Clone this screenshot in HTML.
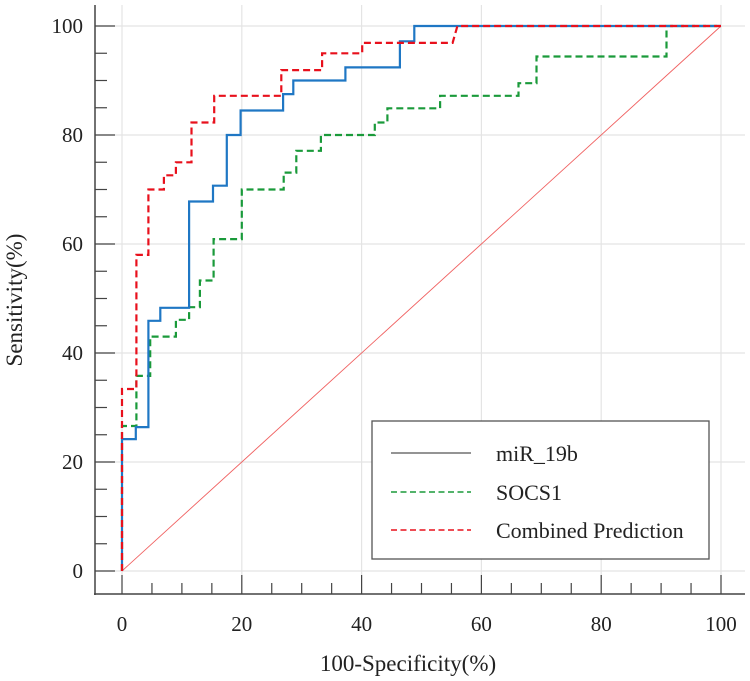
<!DOCTYPE html>
<html><head><meta charset="utf-8"><style>
html,body{margin:0;padding:0;background:#fff;}
svg{display:block;font-family:"Liberation Serif",serif;}
</style></head><body>
<svg id="chart" width="750" height="681" viewBox="0 0 750 681" xmlns="http://www.w3.org/2000/svg">
<g id="grid"></g>
<line id="diag" stroke="#f06060" stroke-width="0.9"/>
<g id="series"></g>
<g id="axes"></g>
<text x="408" y="671" font-size="23" text-anchor="middle" fill="#222">100-Specificity(%)</text>
<text transform="translate(22,300) rotate(-90)" font-size="23" text-anchor="middle" fill="#222">Sensitivity(%)</text>
<g>
<rect x="372" y="421" width="337" height="138" fill="#fff" stroke="#555" stroke-width="1.3"/>
<line x1="391" y1="453" x2="471" y2="453" stroke="#555" stroke-width="1.2"/>
<text x="496" y="461" font-size="22" fill="#222">miR_19b</text>
<line x1="391" y1="492" x2="471" y2="492" stroke="#1a9a3a" stroke-width="1.5" stroke-dasharray="6,3.5"/>
<text x="496" y="500" font-size="22" fill="#222">SOCS1</text>
<line x1="391" y1="530" x2="471" y2="530" stroke="#e8101c" stroke-width="1.5" stroke-dasharray="6,3.5"/>
<text x="496" y="538" font-size="22" fill="#222">Combined Prediction</text>
</g>
</svg>
<script>
// ROC step curves: [100-specificity, sensitivity] vertices
const mirX = [0,0,2.3,2.3,4.4,4.4,6.4,6.4,11.2,11.2,15.2,15.2,17.5,17.5,19.8,19.8,26.9,26.9,28.6,28.6,37.3,37.3,46.4,46.4,48.8,48.8,100];
const mirY = [0,24.2,24.2,26.4,26.4,45.9,45.9,48.3,48.3,67.8,67.8,70.7,70.7,80,80,84.5,84.5,87.5,87.5,90,90,92.4,92.4,97.2,97.2,100,100];
const socsX = [0,0,2.4,2.4,4.7,4.7,9.0,9.0,11.2,11.2,13.0,13.0,15.3,15.3,20,20,27,27,29.1,29.1,33.2,33.2,42.2,42.2,44.3,44.3,53.1,53.1,66.2,66.2,69.2,69.2,90.9,90.9,100];
const socsY = [0,26.6,26.6,35.8,35.8,43,43,46.1,46.1,48.4,48.4,53.3,53.3,60.9,60.9,70,70,73.1,73.1,77.1,77.1,80,80,82.3,82.3,84.9,84.9,87.2,87.2,89.5,89.5,94.4,94.4,100,100];
const combX = [0,0,2.4,2.4,4.4,4.4,7.0,7.0,9.0,9.0,11.6,11.6,15.4,15.4,26.6,26.6,33.4,33.4,40.1,40.1,55.2,56,100];
const combY = [0,33.4,33.4,58,58,70,70,72.6,72.6,75,75,82.3,82.3,87.2,87.2,91.9,91.9,95,95,96.9,96.9,100,100];
const xTicks = [0,20,40,60,80,100];
const yTicks = [0,20,40,60,80,100];

const NS="http://www.w3.org/2000/svg";
const sx = v => 122 + v*5.99;
const sy = v => 571 - v*5.45;
function mk(tag, attrs, parent){const e=document.createElementNS(NS,tag);for(const k in attrs)e.setAttribute(k,attrs[k]);parent.appendChild(e);return e;}
const grid=document.getElementById('grid'), axes=document.getElementById('axes'), series=document.getElementById('series');
xTicks.forEach(t=>{const l=mk('line',{x1:sx(t),x2:sx(t),y1:5,y2:594,stroke:'#e4e4e4','stroke-width':1.2},grid);

});
yTicks.forEach(t=>{const l=mk('line',{x1:95,x2:745,y1:sy(t),y2:sy(t),stroke:'#e4e4e4','stroke-width':1.2},grid);

});
const d=document.getElementById('diag');
d.setAttribute('x1',sx(0));d.setAttribute('y1',sy(0));d.setAttribute('x2',sx(100));d.setAttribute('y2',sy(100));
function path(xs,ys,color,dash,name){
  let s='';xs.forEach((x,i)=>{s+=(i?'L':'M')+sx(x).toFixed(1)+','+sy(ys[i]).toFixed(1);});
  const p=mk('path',{d:s,fill:'none',stroke:color,'stroke-width':2.2},series);
  if(dash)p.setAttribute('stroke-dasharray',dash);
  
  
}
path(socsX,socsY,'#1a9a3a','7,4','socs1-curve');
path(mirX,mirY,'#1f77c4',null,'mir19b-curve');
path(combX,combY,'#e8101c','7,4','combined-curve');
const ax=mk('line',{x1:95,x2:95,y1:5,y2:595,stroke:'#444','stroke-width':1.5},axes);


const bx=mk('line',{x1:94,x2:745,y1:594,y2:594,stroke:'#444','stroke-width':1.5},axes);


for(let v=0;v<=100;v+=5){
  const major=v%20===0;
  const t=mk('line',{x1:sx(v),x2:sx(v),y1:594,y2:major?575:583,stroke:'#444','stroke-width':1.2},axes);
  
  
  const u=mk('line',{x1:95,x2:major?115:107,y1:sy(v),y2:sy(v),stroke:'#444','stroke-width':1.2},axes);
  
  
}
xTicks.forEach(t=>{const e=mk('text',{x:sx(t),y:631,'font-size':21,'text-anchor':'middle',fill:'#222'},axes);e.textContent=t;

});
yTicks.forEach(t=>{const e=mk('text',{x:83,y:sy(t)+7,'font-size':21,'text-anchor':'end',fill:'#222'},axes);e.textContent=t;

});
</script>
</body></html>
